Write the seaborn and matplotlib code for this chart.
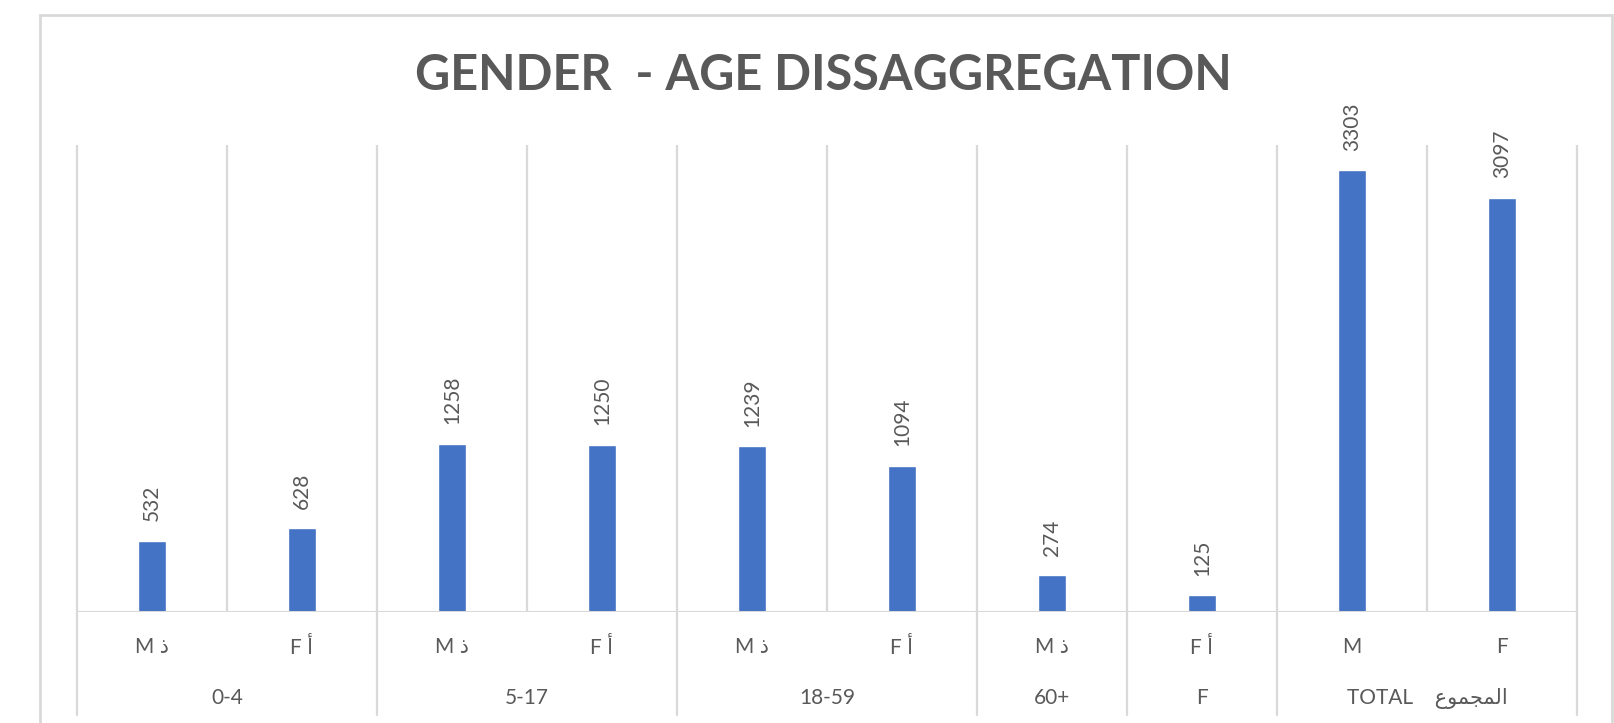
import pandas as pd
import numpy as np
import matplotlib
matplotlib.use("Agg")
import matplotlib.pyplot as plt
import matplotlib.transforms as mtransforms
from matplotlib.patches import Rectangle
import seaborn as sns

# Dữ liệu
keys = ["0-4 M", "0-4 F", "5-17 M", "5-17 F", "18-59 M", "18-59 F",
        "60+ M", "60+ F", "TOTAL M", "TOTAL F"]
values = [532, 628, 1258, 1250, 1239, 1094, 274, 125, 3303, 3097]
sex_labels = ["M \u0630", "F \u0623", "M \u0630", "F \u0623", "M \u0630", "F \u0623",
              "M \u0630", "F \u0623", "M", "F"]
# "المجموع" viết sẵn theo dạng hiển thị (presentation forms) vì matplotlib không tự nối chữ Ả Rập
group_names = ["0-4", "5-17", "18-59", "60+", "F",
               "TOTAL    \uFEC9\uFEEE\uFEE4\uFEA0\uFEE4\uFEDF\uFE8D"]
group_first = [0, 2, 4, 6, 7, 8]
group_last = [1, 3, 5, 6, 7, 9]

df = pd.DataFrame({"key": keys, "value": values})

sns.set_style("white")
plt.rcParams["font.family"] = ["Lato", "DejaVu Sans"]

GRID = "#D9D9D9"
TXT = "#595959"
BAR = "#4472C4"

W, H = 1614, 723
fig = plt.figure(figsize=(W / 100, H / 100), dpi=100)
ax = fig.add_axes([77 / W, 1 - 612 / H, 1500 / W, 464 / H])

sns.barplot(data=df, x="key", y="value", color=BAR, width=0.19,
            saturation=1, ax=ax, order=keys)

ax.set_xlim(-0.5, len(keys) - 0.5)
ax.set_ylim(0, 3470)
for s in ax.spines.values():
    s.set_visible(False)
ax.set_yticks([])
ax.set_xlabel("")
ax.set_ylabel("")

# đường lưới dọc giữa các cột
ax.vlines(np.arange(len(keys) + 1) - 0.5, 0, 3495, color=GRID, lw=1.6,
          zorder=0, clip_on=False)
ax.axhline(0, color=GRID, lw=2.2, zorder=3)

# nhãn giá trị
ax.bar_label(ax.containers[0], rotation=90, padding=14, color=TXT, fontsize=15)

# nhãn cấp 1
ax.set_xticks(range(len(keys)))
ax.set_xticklabels(sex_labels, color=TXT, fontsize=15)
ax.tick_params(axis="x", length=0, pad=18)

# nhãn cấp 2 và đường phân cách
trans = mtransforms.blended_transform_factory(ax.transData, ax.transAxes)
for name, a, b in zip(group_names, group_first, group_last):
    ax.text((a + b) / 2, -0.186, name, transform=trans, ha="center", va="center",
            color=TXT, fontsize=15)
edges = sorted(set([a - 0.5 for a in group_first] + [b + 0.5 for b in group_last]))
for e in edges:
    ax.plot([e, e], [0, -0.222], transform=trans, color=GRID, lw=1.6, clip_on=False)

fig.text(823 / W, 1 - 75 / H, "GENDER  - AGE DISSAGGREGATION", ha="center", va="center",
         fontsize=35, fontweight="bold", color=TXT)

# khung biểu đồ
fig.add_artist(Rectangle((40 / W, -0.05), 1572 / W, 1.05 - 15 / H, fill=False,
                         edgecolor=GRID, lw=2, transform=fig.transFigure))

fig.savefig("out.png", dpi=100)
